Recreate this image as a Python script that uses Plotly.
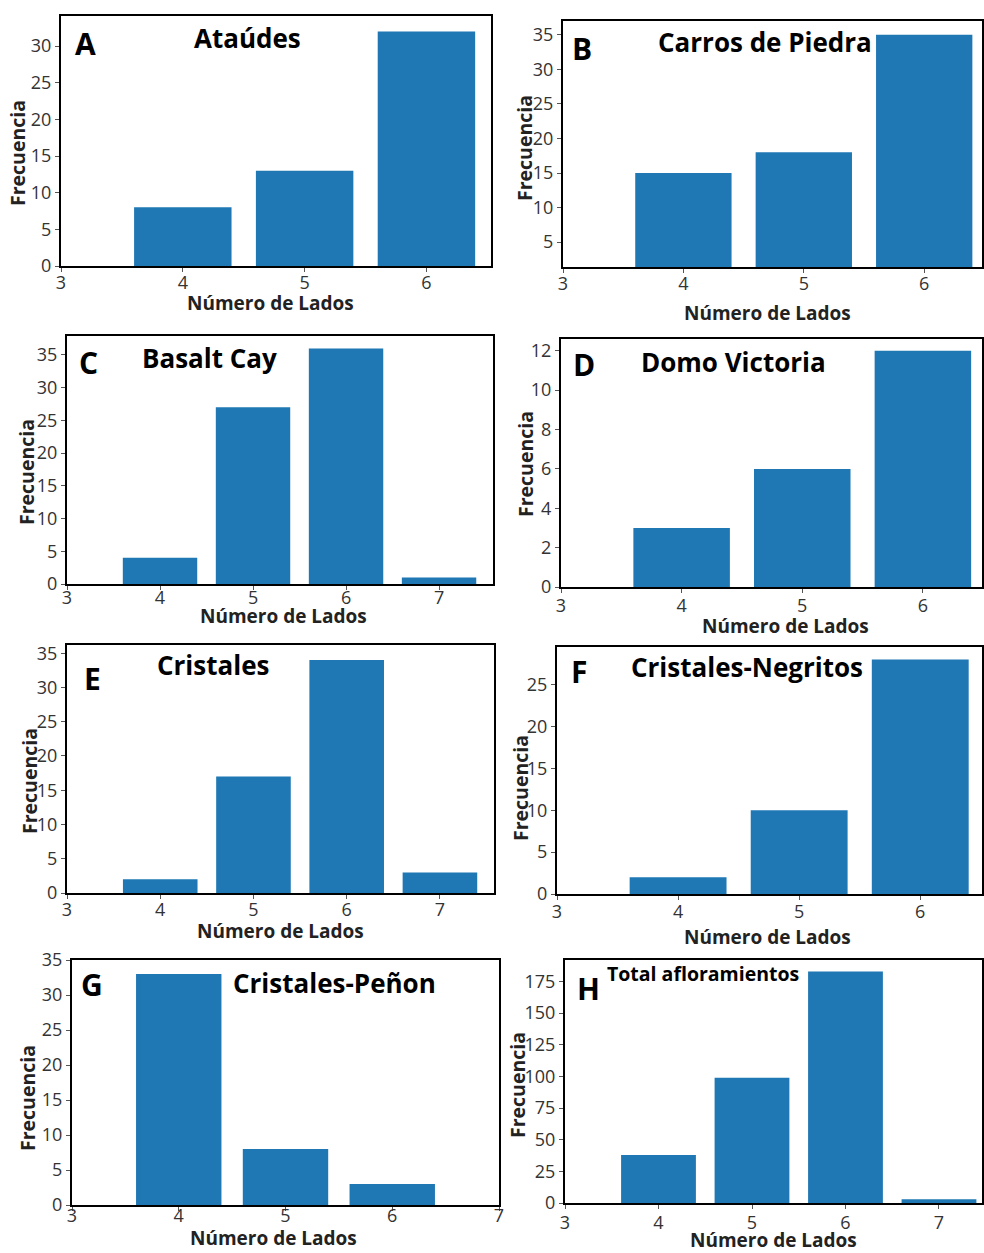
import plotly.graph_objects as go

W, H = 984, 1253

# ---------------- data ----------------
lados_A = [4, 5, 6]
frec_A = [8, 13, 32]
lados_B = [4, 5, 6]
frec_B = [15, 18, 35]
lados_C = [4, 5, 6, 7]
frec_C = [4, 27, 36, 1]
lados_D = [4, 5, 6]
frec_D = [3, 6, 12]
lados_E = [4, 5, 6, 7]
frec_E = [2, 17, 34, 3]
lados_F = [4, 5, 6]
frec_F = [2, 10, 28]
lados_G = [4, 5, 6]
frec_G = [33, 8, 3]
lados_H = [4, 5, 6, 7]
frec_H = [38, 99, 183, 3]

letras = ["A", "B", "C", "D", "E", "F", "G", "H"]
titulos = ["Ataúdes", "Carros de Piedra", "Basalt Cay", "Domo Victoria",
           "Cristales", "Cristales-Negritos", "Cristales-Peñon", "Total afloramientos"]
xtick_A = [3, 4, 5, 6]
xtick_C = [3, 4, 5, 6, 7]
ytick_A = [0, 5, 10, 15, 20, 25, 30]
ytick_B = [5, 10, 15, 20, 25, 30, 35]
ytick_C = [0, 5, 10, 15, 20, 25, 30, 35]
ytick_D = [0, 2, 4, 6, 8, 10, 12]
ytick_F = [0, 5, 10, 15, 20, 25]
ytick_H = [0, 25, 50, 75, 100, 125, 150, 175]

series = [(lados_A, frec_A), (lados_B, frec_B), (lados_C, frec_C), (lados_D, frec_D),
          (lados_E, frec_E), (lados_F, frec_F), (lados_G, frec_G), (lados_H, frec_H)]

# ---------------- layout geometry (pixels) ----------------
panels = [
    dict(box=(61, 16, 491, 266), xr=[3, 6.53], yr=[0, 34.1], xt=xtick_A, yt=ytick_A, so=-5,
         tit=(247, 38, 26), let=(85, 44), fy=(18, 153), nl=(270, 303)),
    dict(box=(563, 21, 982, 267), xr=[3, 6.48], yr=[1.4, 37.0], xt=xtick_A, yt=ytick_B, so=-5,
         tit=(765, 42, 26), let=(582, 48), fy=(525, 148), nl=(767, 313)),
    dict(box=(67, 336, 493, 584), xr=[3, 7.58], yr=[0, 37.9], xt=xtick_C, yt=ytick_C, so=-8,
         tit=(209, 358, 26), let=(88, 362), fy=(26, 472), nl=(283, 616)),
    dict(box=(561, 339, 982, 587), xr=[3, 6.49], yr=[0, 12.6], xt=xtick_A, yt=ytick_D, so=-3,
         tit=(733, 362, 26), let=(584, 365), fy=(526, 464), nl=(785, 626)),
    dict(box=(67, 645, 494, 893), xr=[3, 7.58], yr=[0, 36.2], xt=xtick_C, yt=ytick_C, so=-5,
         tit=(213, 665, 26), let=(92, 678), fy=(29, 781), nl=(280, 931)),
    dict(box=(557, 647, 982, 894), xr=[3, 6.51], yr=[0, 29.5], xt=xtick_A, yt=ytick_F, so=-4,
         tit=(747, 667, 26), let=(579, 671), fy=(520, 788), nl=(767, 937)),
    dict(box=(72, 960, 499, 1205), xr=[3, 7.0], yr=[0, 35.0], xt=xtick_C, yt=ytick_C, so=-11,
         tit=(334, 983, 26), let=(92, 984), fy=(27, 1098), nl=(273, 1238)),
    dict(box=(565, 960, 982, 1203), xr=[3, 7.46], yr=[0, 192], xt=xtick_C, yt=ytick_H, so=-2,
         tit=(703, 973, 19.5), let=(588, 988), fy=(517, 1085), nl=(773, 1240)),
]

FONT = "Open Sans"
BAR_COLOR = "#1f77b4"


def px(x):
    return x / W


def py(y):
    return 1 - y / H


fig = go.Figure()
annotations = []
layout_axes = {}

for i, (p, (xs, ys)) in enumerate(zip(panels, series)):
    n = "" if i == 0 else str(i + 1)
    fig.add_trace(go.Bar(x=xs, y=ys, width=0.8, marker=dict(color=BAR_COLOR, line=dict(width=0)),
                         xaxis="x" + n, yaxis="y" + n, showlegend=False))
    l, t, r, b = p["box"]
    common = dict(showline=True, mirror=True, linecolor="black", linewidth=2,
                  showgrid=False, zeroline=False, ticks="outside", ticklen=4,
                  tickcolor="#555", tickwidth=1, automargin=False,
                  tickfont=dict(family=FONT, size=18, color="#333"))
    layout_axes["xaxis" + n] = dict(domain=[px(l), px(r)], anchor="y" + n, range=p["xr"],
                                    tickmode="array", tickvals=p["xt"],
                                    ticktext=[str(v) for v in p["xt"]],
                                    ticklabelstandoff=p["so"], **common)
    layout_axes["yaxis" + n] = dict(domain=[py(b), py(t)], anchor="x" + n, range=p["yr"],
                                    tickmode="array", tickvals=p["yt"],
                                    ticktext=[str(v) for v in p["yt"]], **common)
    tx, ty, ts = p["tit"]
    annotations.append(dict(text="<b>" + titulos[i] + "</b>", x=px(tx), y=py(ty),
                            xref="paper", yref="paper", xanchor="center", yanchor="middle",
                            showarrow=False, font=dict(family=FONT, size=ts, color="black")))
    lx, ly = p["let"]
    annotations.append(dict(text="<b>" + letras[i] + "</b>", x=px(lx), y=py(ly),
                            xref="paper", yref="paper", xanchor="center", yanchor="middle",
                            showarrow=False, font=dict(family=FONT, size=30, color="black")))
    fx, fy = p["fy"]
    annotations.append(dict(text="<b>Frecuencia</b>", x=px(fx), y=py(fy), textangle=-90,
                            xref="paper", yref="paper", xanchor="center", yanchor="middle",
                            showarrow=False, font=dict(family=FONT, size=19.5, color="#222")))
    nx, ny = p["nl"]
    annotations.append(dict(text="<b>Número de Lados</b>", x=px(nx), y=py(ny),
                            xref="paper", yref="paper", xanchor="center", yanchor="middle",
                            showarrow=False, font=dict(family=FONT, size=19, color="#222")))

fig.update_layout(width=W, height=H, margin=dict(l=0, r=0, t=0, b=0, pad=0),
                  autosize=False,
                  paper_bgcolor="white", plot_bgcolor="white",
                  annotations=annotations, bargap=0.2, **layout_axes)

fig.write_html("out.html",
               post_script="document.body.style.margin='0';document.body.style.overflow='hidden';")
